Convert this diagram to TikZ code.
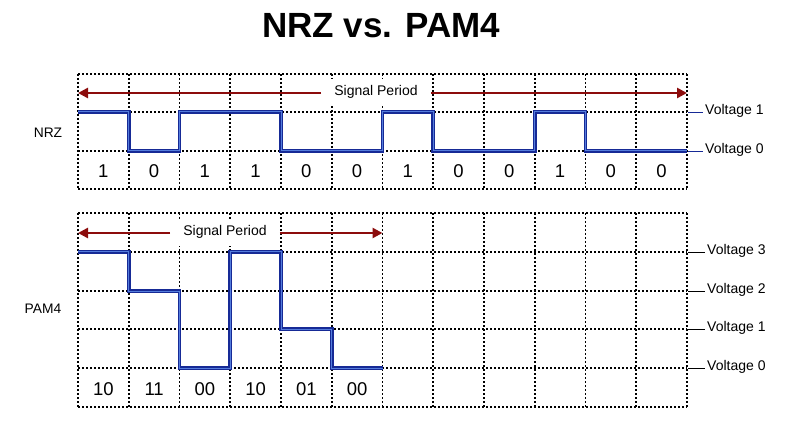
\documentclass[tikz,border=0pt]{standalone}
\usepackage{fontspec}
\setmainfont{Liberation Sans}
\usetikzlibrary{arrows.meta}
\definecolor{sigdark}{RGB}{22,42,150}
\definecolor{siglight}{RGB}{85,125,220}
\definecolor{perred}{RGB}{140,12,12}
\tikzset{
  gridline/.style={line width=1.6pt, dash pattern=on 1.6pt off 2.4pt, black},
  sigline/.style={draw=sigdark, double=siglight, double distance=1pt, line width=1.3pt, line join=miter},
  perarrow/.style={draw=perred, line width=2.8pt, -{Triangle[length=10pt,width=10pt]}},
  pertext/.style={font=\fontsize{14}{16}\selectfont, inner xsep=13pt, minimum height=27pt, fill=white, anchor=mid},
  vlabel/.style={font=\fontsize{14}{16}\selectfont, inner sep=2pt, anchor=mid west},
  bitlabel/.style={font=\fontsize{18.5}{20}\selectfont, anchor=base},
  sidelabel/.style={font=\fontsize{13.8}{15}\selectfont},
  vconnN/.style={draw=sigdark, line width=0.7pt},
  vconnP/.style={draw=black, line width=0.7pt}
}
\begin{document}
\begin{tikzpicture}[x=1pt,y=-1pt]
\useasboundingbox (0,0) rectangle (800,430);
\def\gx{78}
\def\gw{50.75}
% title
\node[font=\fontsize{35}{40}\selectfont\bfseries, anchor=base] (title) at (381,38) {NRZ vs. PAM4};

% ---------- NRZ grid ----------
\foreach \yy in {74,112,151,189} \draw[gridline] (78,\yy) -- (687,\yy);
\foreach \i in {0,...,12} \draw[gridline] ({\gx+\i*\gw},74) -- ({\gx+\i*\gw},189);

% NRZ signal
\draw[sigline] (78,112) -- (128.75,112) -- (128.75,151) -- (179.5,151) -- (179.5,112)
  -- (281,112) -- (281,151) -- (382.5,151) -- (382.5,112) -- (433.25,112) -- (433.25,151)
  -- (534.75,151) -- (534.75,112) -- (585.5,112) -- (585.5,151) -- (687,151);

% NRZ signal period
\coordinate (nL) at (78,93);
\coordinate (nR) at (687,93);
\node[pertext] (spN) at (376,93) {Signal Period};
\draw[perarrow] (spN.mid west) -- (nL);
\draw[perarrow] (spN.mid east) -- (nR);

% NRZ voltage labels
\coordinate (nV1) at (688,112);
\coordinate (nV0) at (688,151);
\node[vlabel] (lnV1) at (703,112) {Voltage 1};
\node[vlabel] (lnV0) at (703,151) {Voltage 0};
\draw[vconnN] (nV1) -- (lnV1.mid west);
\draw[vconnN] (nV0) -- (lnV0.mid west);

% NRZ bits
\foreach \b [count=\i from 0] in {1,0,1,1,0,0,1,0,0,1,0,0}
  \node[bitlabel] (nb\i) at ({\gx+(\i+0.5)*\gw},178) {\b};

\node[sidelabel] (nrz) at (48,133) {NRZ};

% ---------- PAM4 grid ----------
\foreach \yy in {213,252,291,329,368,407} \draw[gridline] (78,\yy) -- (687,\yy);
\foreach \i in {0,...,12} \draw[gridline] ({\gx+\i*\gw},213) -- ({\gx+\i*\gw},407);

% PAM4 signal
\draw[sigline] (78,252) -- (128.75,252) -- (128.75,291) -- (179.5,291) -- (179.5,368)
  -- (230.25,368) -- (230.25,252) -- (281,252) -- (281,329) -- (331.75,329) -- (331.75,368)
  -- (382.5,368);

% PAM4 signal period
\coordinate (pL) at (78,233);
\coordinate (pR) at (382.5,233);
\node[pertext] (spP) at (225,233) {Signal Period};
\draw[perarrow] (spP.mid west) -- (pL);
\draw[perarrow] (spP.mid east) -- (pR);

% PAM4 voltage labels
\foreach \v/\yy in {3/252,2/291,1/329,0/368}{
  \coordinate (pV\v) at (688,\yy);
  \node[vlabel] (lpV\v) at (705,\yy) {Voltage \v};
  \draw[vconnP] (pV\v) -- (lpV\v.mid west);
}

% PAM4 symbols
\foreach \b [count=\i from 0] in {10,11,00,10,01,00}
  \node[bitlabel] (pb\i) at ({\gx+(\i+0.5)*\gw},395) {\b};

\node[sidelabel] (pam) at (43,309) {PAM4};
\end{tikzpicture}
\end{document}
